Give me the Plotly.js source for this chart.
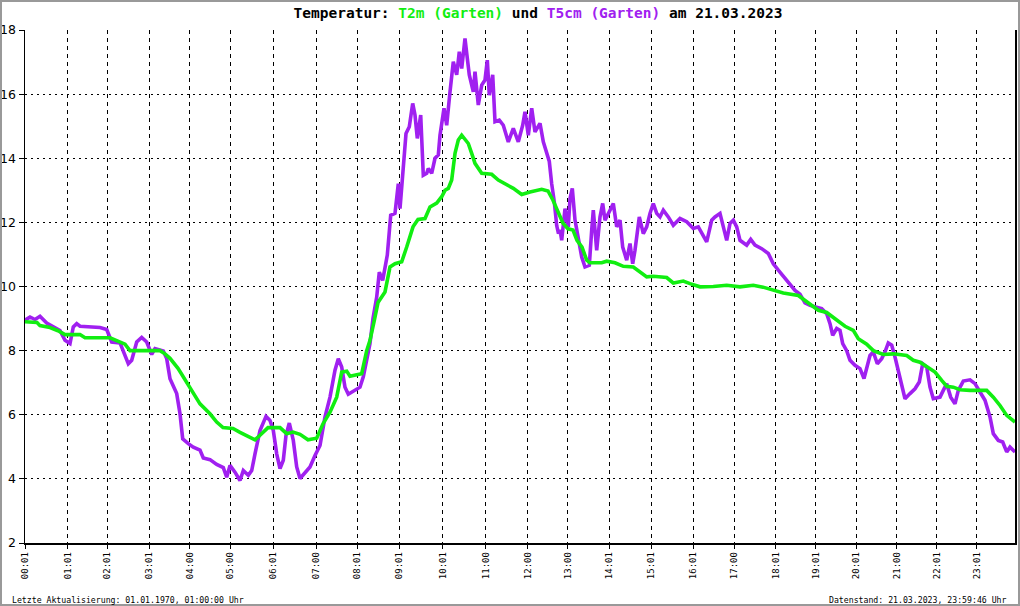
<!DOCTYPE html>
<html>
<head>
<meta charset="utf-8">
<script src="https://cdn.plot.ly/plotly-3.0.1.min.js"></script>
<style>
  html, body { margin: 0; padding: 0; background: #ffffff; }
  #chart { width: 1020px; height: 606px; }
</style>
</head>
<body>
<div id="chart"></div>
<script>
// Sample index along the day (the chart's x axis is index based)
const t2mIndex = [0,12,15,25,33,40,55,60,85,93,100,105,135,140,145,153,160,165,175,185,
  191.7,198,208,215,221.7,230,235,243,255,261.7,268,275,283,291.7,298,305,311.7,316.7,321.7,325,
  331.7,336.7,341.7,345,349,353,360,365,370,376.7,381.7,388,393,400,405,411.7,416.7,420,423.3,426.7,
  430,433.3,436.7,440,443.3,446.7,450,456.7,466.7,473.3,480,488.3,496.7,505,516.7,523,528,533,538,543,
  548,552,557,561.7,565,576.7,581.7,590,598.3,608.3,615,621.7,628.3,641.7,648.3,658.3,665,675,688.3,701.7,
  715,728.3,738,748.3,758.3,773.3,780,786.7,793.3,801.7,810,820,828.3,833.3,841.7,848.3,858.3,868.3,881.7,888.3,
  895,901.7,910,916.7,921.7,928.3,935,945,961.7,968.3,975,981.7,990];
const t2mValues = [8.9,8.88,8.78,8.72,8.62,8.5,8.5,8.4,8.4,8.3,8.2,8.0,8.0,7.9,7.76,7.45,7.1,6.86,6.34,6.03,
  5.77,5.6,5.57,5.45,5.36,5.22,5.36,5.6,5.6,5.41,5.46,5.39,5.22,5.27,5.72,6.08,6.55,7.33,7.36,7.2,
  7.25,7.28,8.0,8.32,8.9,9.5,9.83,10.61,10.71,10.77,11.23,11.86,12.09,12.12,12.48,12.6,12.8,13.0,13.06,13.32,
  14.15,14.57,14.72,14.59,14.46,14.15,13.84,13.53,13.5,13.32,13.21,13.06,12.87,12.95,13.03,12.98,12.69,12.3,11.97,11.8,
  11.76,11.44,11.23,10.82,10.74,10.74,10.79,10.74,10.63,10.61,10.45,10.3,10.32,10.28,10.11,10.17,10.09,9.99,10.0,10.04,
  9.99,10.04,9.98,9.88,9.8,9.72,9.57,9.41,9.26,9.19,9.0,8.76,8.63,8.37,8.2,8.0,7.88,7.9,7.85,7.7,
  7.64,7.49,7.33,7.07,6.89,6.86,6.78,6.76,6.76,6.55,6.29,5.98,5.77];

const t5cmIndex = [0,5,10,15,21.7,28.3,35,40,45,48.3,51.7,55,75,81.7,86.7,95,100,103.3,106.7,111.7,
  116.7,121.7,126.7,130,138.3,141.7,145,151.7,155,157.7,163.3,168.3,175,178.3,185,191.7,198.3,201.7,205,210,
  215,218.3,223.3,226.7,230,235,241,245,248.3,251.7,255,258.3,261,264.3,268.3,271.7,275,280,285,290,
  295,300,305,310,313.3,316.7,320,323.3,328.3,335,338.3,341.7,345,348,351.7,354.3,357.7,362.3,365.7,370,
  373.3,375,378.3,381,384.3,387.7,390,392.3,395.7,398.3,401.7,403.3,406.7,410,413.3,415,419,421.7,425,428.3,
  431.7,434.3,436.7,440,442.3,444.3,448.3,450,453.3,456.7,460,462.3,464.3,467.7,470,474.3,478.3,483.3,488.3,493.3,
  497.7,500,503.3,506.7,510,515,518.3,521,524.3,526.7,529.3,531.7,533.5,535,536.7,540,543.3,545,547.3,550,
  553.3,556.7,560,564.3,566.7,568.3,571.7,575,577.7,580,585,588.3,591.7,595,597.7,601.7,605,607.7,610,614.3,
  618.3,621.7,625,628.3,631.7,635,638.3,643.3,648.3,655,661.7,668.3,673.3,678.3,681.7,686.7,690,695,698.3,701.7,
  705,708.3,711.7,715,721.7,725.7,730,736.7,743.3,748.3,753.3,760,765,770,775,780,785,791.7,796.7,801.7,
  805,807.7,811.7,815,817.7,821.7,825,830,835,839,841.7,845,848.3,852.3,856.7,860,863.3,866.7,870,873.3,
  876.7,880,885,890,894.3,897.7,901.7,905,908.3,915,918.3,921.7,925.7,930,933.3,938.3,945,950,955,960,
  965,968.3,973.3,977.7,981.7,985,990];
const t5cmValues = [8.95,9.05,8.97,9.07,8.86,8.74,8.63,8.32,8.22,8.74,8.84,8.76,8.72,8.66,8.27,8.24,7.8,7.59,7.7,8.27,
  8.41,8.27,7.88,8.06,7.99,7.75,7.12,6.66,6.03,5.25,5.1,4.99,4.9,4.65,4.6,4.45,4.35,4.05,4.42,4.21,
  3.95,4.26,4.11,4.26,4.78,5.51,5.95,5.82,5.51,4.78,4.32,4.58,5.36,5.74,5.2,4.37,4.01,4.21,4.37,4.73,
  5.04,5.93,6.55,7.39,7.75,7.49,6.86,6.64,6.74,6.86,7.18,7.7,8.22,9.0,9.67,10.45,10.19,10.98,12.22,12.28,
  13.21,12.43,13.84,14.77,14.98,15.71,15.35,14.62,15.35,13.47,13.53,13.68,13.53,14.0,14.1,14.72,15.56,15.03,16.07,17.01,
  16.6,17.32,16.8,17.74,17.12,16.6,16.07,16.7,15.66,16.28,16.44,17.06,15.97,16.6,15.14,15.19,15.03,14.51,14.93,14.51,
  15.03,15.45,14.72,15.56,14.82,15.09,14.51,14.2,13.9,13.2,12.64,11.9,11.65,11.76,11.44,12.43,11.86,12.74,13.06,12.07,
  11.44,10.92,10.61,10.66,11.76,12.38,11.13,12.17,12.59,12.07,12.38,12.59,11.86,12.07,11.23,10.82,11.34,10.71,11.13,12.17,
  11.65,11.86,12.28,12.59,12.28,12.17,12.38,12.17,11.91,12.12,12.02,11.81,11.86,11.55,11.39,12.07,12.17,12.28,11.86,11.44,
  11.97,12.07,11.86,11.44,11.29,11.47,11.29,11.18,11.03,10.71,10.51,10.25,10.1,9.88,9.76,9.49,9.41,9.36,9.31,9.15,
  8.84,8.48,8.69,8.63,8.22,8.0,7.7,7.54,7.44,7.13,7.44,7.85,7.96,7.59,7.75,7.96,8.24,8.17,7.8,7.39,
  6.86,6.5,6.66,6.81,7.02,7.59,7.49,6.86,6.5,6.55,6.76,6.97,6.55,6.34,6.76,7.05,7.09,6.97,6.71,6.45,
  5.93,5.41,5.2,5.15,4.84,4.99,4.84];

const tickIndex = [0,42.7,82.3,124.3,164.7,205,248.3,291,332.3,374.3,417.7,460.7,502.7,542.7,584.3,626,
  668.3,709.3,750.7,790.7,831,871.7,911.7,951.7];
const tickLabels = ["00:01","01:01","02:01","03:01","04:00","05:00","06:01","07:00","08:01","09:01","10:01","11:00",
  "12:00","13:00","14:01","15:01","16:01","17:00","18:01","19:01","20:01","21:00","22:01","23:01"];
const yTicks = [2,4,6,8,10,12,14,16,18];

const GREEN = "#11ee11";
const PURPLE = "#a020f0";

const traces = [
  { x: t5cmIndex, y: t5cmValues, type: "scatter", mode: "lines", name: "T5cm (Garten)",
    line: { color: PURPLE, width: 3.6 }, hoverinfo: "skip" },
  { x: t2mIndex, y: t2mValues, type: "scatter", mode: "lines", name: "T2m (Garten)",
    line: { color: GREEN, width: 3.6 }, hoverinfo: "skip" }
];

const mono = "DejaVu Sans Mono, monospace";

const layout = {
  width: 1020, height: 606,
  margin: { l: 25, r: 5, t: 30, b: 63, pad: 0 },
  paper_bgcolor: "#ffffff", plot_bgcolor: "#ffffff",
  showlegend: false,
  title: {
    text: 'Temperatur: <span style="color:' + GREEN + '">T2m (Garten)</span> und <span style="color:' + PURPLE + '">T5cm (Garten)</span> am 21.03.2023',
    font: { family: mono, size: 14.5, color: "#000000", weight: "bold" },
    x: 538 / 1020, xanchor: "center", y: 1 - 13 / 606, yanchor: "middle"
  },
  xaxis: {
    range: [0, 990], tickmode: "array", tickvals: tickIndex, ticktext: tickLabels,
    tickangle: -90, tickfont: { family: mono, size: 9, color: "#000" },
    ticks: "outside", ticklen: 4, tickcolor: "#000",
    showgrid: true, gridcolor: "#000", gridwidth: 1, griddash: "4px,4px",
    showline: true, linecolor: "#000", linewidth: 1.5, mirror: false,
    zeroline: false, fixedrange: true
  },
  yaxis: {
    range: [2, 18], tickmode: "array", tickvals: yTicks,
    tickfont: { family: "DejaVu Sans, sans-serif", size: 12.5, color: "#000" },
    ticks: "outside", ticklen: 5, tickcolor: "#000",
    showgrid: true, gridcolor: "#000", gridwidth: 1, griddash: "2px,4px",
    showline: true, linecolor: "#000", linewidth: 1.5, mirror: true,
    zeroline: false, fixedrange: true
  },
  annotations: [
    { xref: "paper", yref: "paper", x: (10 - 25) / 990, y: (543 - 599.5) / 513, xanchor: "left", yanchor: "middle",
      text: "Letzte Aktualisierung: 01.01.1970, 01:00:00 Uhr", showarrow: false,
      font: { family: mono, size: 8.2, color: "#000" } },
    { xref: "paper", yref: "paper", x: (1009 - 25) / 990, y: (543 - 599.5) / 513, xanchor: "right", yanchor: "middle",
      text: "Datenstand: 21.03.2023, 23:59:46 Uhr", showarrow: false,
      font: { family: mono, size: 8.2, color: "#000" } }
  ],
  shapes: [
    { type: "rect", xref: "paper", yref: "paper",
      x0: (1 - 25) / 990, x1: (1019 - 25) / 990, y0: (543 - 605) / 513, y1: (543 - 1) / 513,
      line: { color: "#999999", width: 2 }, fillcolor: "rgba(0,0,0,0)", layer: "above" }
  ]
};

Plotly.newPlot("chart", traces, layout, { displayModeBar: false, staticPlot: true });
</script>
</body>
</html>
